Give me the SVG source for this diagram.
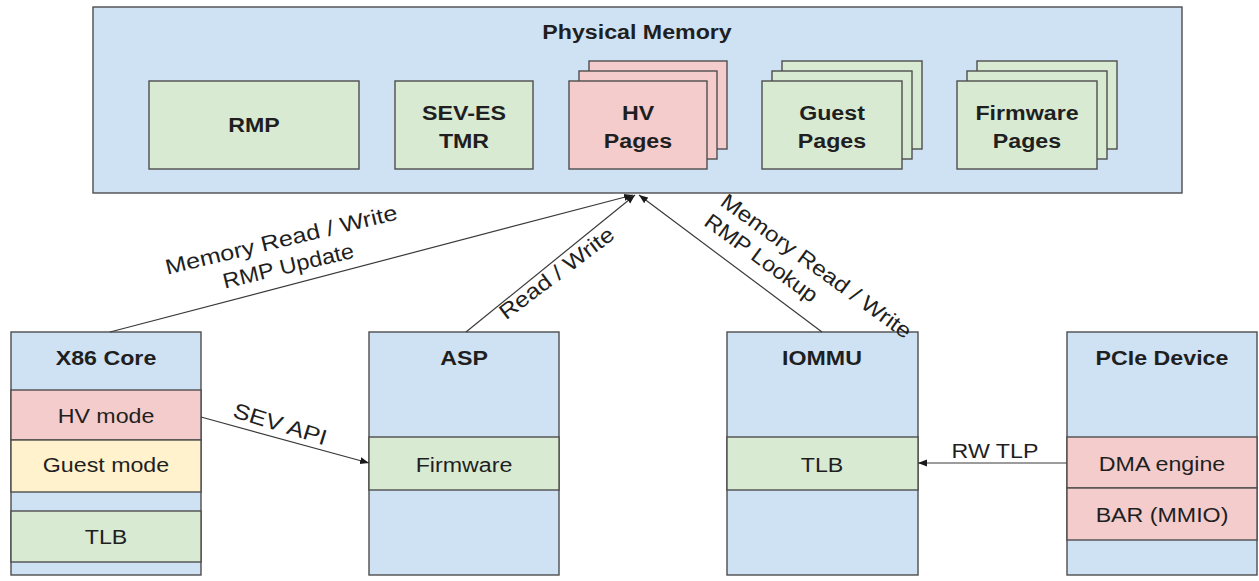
<svg xmlns="http://www.w3.org/2000/svg" width="1259" height="581" viewBox="0 0 1259 581">
<defs>
<style>
.box{stroke:#4d4d4d;stroke-width:1.4}
.blue{fill:#cfe2f3}
.green{fill:#d9ead3}
.red{fill:#f4cccc}
.yellow{fill:#fff2cc}
text{font-family:"Liberation Sans",Arial,sans-serif;font-size:19.5px;fill:#1f1f1f;text-anchor:middle}
.b{font-weight:bold}
.lbl{font-size:21.5px}
.conn{stroke:#3a3a3a;stroke-width:1.2;fill:none}
</style>
<marker id="ah" markerUnits="userSpaceOnUse" markerWidth="10" markerHeight="8" refX="9" refY="4" orient="auto">
<path d="M0,0.5 L9,4 L0,7.5 z" fill="#1a1a1a"/>
</marker>
</defs>
<rect width="1259" height="581" fill="#ffffff"/>

<g id="physical-memory">
<rect class="box blue" x="93" y="7" width="1089" height="186"/>
<text class="b" transform="translate(637,39) scale(1.19 1)">Physical Memory</text>
</g>

<g id="rmp">
<rect class="box green" x="149" y="81" width="210" height="88"/>
<text class="b" transform="translate(254,132) scale(1.19 1)">RMP</text>
</g>

<g id="sev-es-tmr">
<rect class="box green" x="395" y="81" width="138" height="88"/>
<text class="b" transform="translate(464,120) scale(1.19 1)">SEV-ES</text>
<text class="b" transform="translate(464,148) scale(1.19 1)">TMR</text>
</g>

<g id="hv-pages">
<rect class="box red" x="589" y="61" width="138" height="88"/>
<rect class="box red" x="579" y="71" width="138" height="88"/>
<rect class="box red" x="569" y="81" width="138" height="88"/>
<text class="b" transform="translate(638,120) scale(1.19 1)">HV</text>
<text class="b" transform="translate(638,148) scale(1.19 1)">Pages</text>
</g>

<g id="guest-pages">
<rect class="box green" x="782" y="61" width="140" height="88"/>
<rect class="box green" x="772" y="71" width="140" height="88"/>
<rect class="box green" x="762" y="81" width="140" height="88"/>
<text class="b" transform="translate(832,120) scale(1.19 1)">Guest</text>
<text class="b" transform="translate(832,148) scale(1.19 1)">Pages</text>
</g>

<g id="firmware-pages">
<rect class="box green" x="977" y="61" width="140" height="88"/>
<rect class="box green" x="967" y="71" width="140" height="88"/>
<rect class="box green" x="957" y="81" width="140" height="88"/>
<text class="b" transform="translate(1027,120) scale(1.19 1)">Firmware</text>
<text class="b" transform="translate(1027,148) scale(1.19 1)">Pages</text>
</g>

<g id="x86-core">
<rect class="box blue" x="11" y="332" width="190" height="243"/>
<rect class="box red" x="11" y="390" width="190" height="50"/>
<rect class="box yellow" x="11" y="440" width="190" height="52"/>
<rect class="box green" x="11" y="511" width="190" height="51"/>
<text class="b" transform="translate(106,365) scale(1.19 1)">X86 Core</text>
<text transform="translate(106,423) scale(1.19 1)">HV mode</text>
<text transform="translate(106,472) scale(1.19 1)">Guest mode</text>
<text transform="translate(106,544) scale(1.19 1)">TLB</text>
</g>

<g id="asp">
<rect class="box blue" x="369" y="332" width="190" height="243"/>
<rect class="box green" x="369" y="437" width="190" height="53"/>
<text class="b" transform="translate(464,365) scale(1.19 1)">ASP</text>
<text transform="translate(464,472) scale(1.19 1)">Firmware</text>
</g>

<g id="iommu">
<rect class="box blue" x="727" y="332" width="191" height="243"/>
<rect class="box green" x="727" y="437" width="191" height="53"/>
<text class="b" transform="translate(822,365) scale(1.19 1)">IOMMU</text>
<text transform="translate(822,472) scale(1.19 1)">TLB</text>
</g>

<g id="pcie-device">
<rect class="box blue" x="1067" y="332" width="190" height="243"/>
<rect class="box red" x="1067" y="437" width="190" height="51"/>
<rect class="box red" x="1067" y="488" width="190" height="52"/>
<text class="b" transform="translate(1162,365) scale(1.19 1)">PCIe Device</text>
<text transform="translate(1162,471) scale(1.19 1)">DMA engine</text>
<text transform="translate(1162,522) scale(1.19 1)">BAR (MMIO)</text>
</g>

<g id="connectors">
<line class="conn" x1="110" y1="332" x2="633" y2="195" marker-end="url(#ah)"/>
<line class="conn" x1="466" y1="332" x2="635" y2="195" marker-end="url(#ah)"/>
<line class="conn" x1="822" y1="332" x2="639" y2="195" marker-end="url(#ah)"/>
<line class="conn" x1="201" y1="417" x2="369" y2="463" marker-end="url(#ah)"/>
<line class="conn" x1="1067" y1="463" x2="918" y2="463" marker-end="url(#ah)"/>
<text class="lbl" transform="translate(283,247) rotate(-13.5)" textLength="238" lengthAdjust="spacingAndGlyphs">Memory Read / Write</text>
<text class="lbl" transform="translate(290,273) rotate(-13.5)" textLength="134" lengthAdjust="spacingAndGlyphs">RMP Update</text>
<text class="lbl" transform="translate(561,279) rotate(-37)" textLength="138" lengthAdjust="spacingAndGlyphs">Read / Write</text>
<text class="lbl" transform="translate(812,272) rotate(36)" textLength="230" lengthAdjust="spacingAndGlyphs">Memory Read / Write</text>
<text class="lbl" transform="translate(757,264) rotate(36)" textLength="134" lengthAdjust="spacingAndGlyphs">RMP Lookup</text>
<text class="lbl" transform="translate(278,431) rotate(17.2)" textLength="97" lengthAdjust="spacingAndGlyphs">SEV API</text>
<text transform="translate(995,458) scale(1.19 1)">RW TLP</text>
</g>
</svg>
